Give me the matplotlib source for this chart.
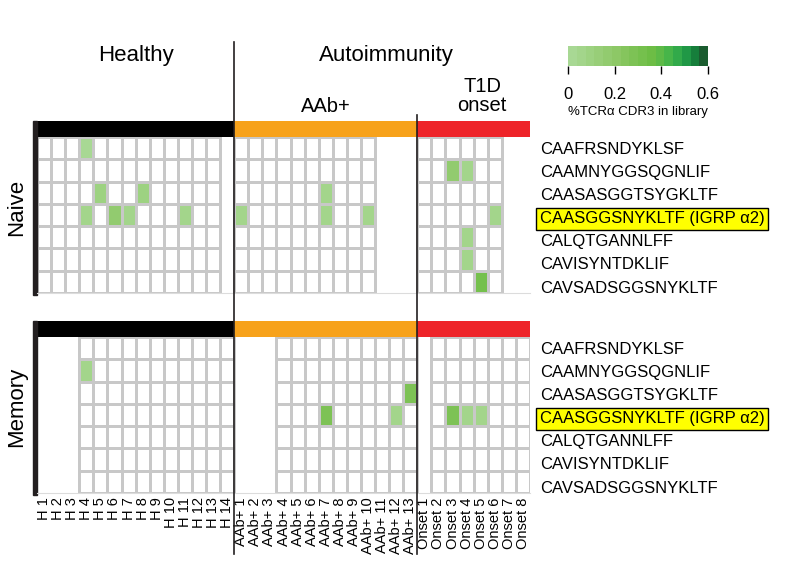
import numpy as np
import matplotlib.pyplot as plt
import matplotlib.transforms as mtransforms
from matplotlib.colors import LinearSegmentedColormap, Normalize
from matplotlib.cm import ScalarMappable
from matplotlib.lines import Line2D
from matplotlib.patches import Rectangle

plt.rcParams['font.family'] = ['Liberation Sans', 'DejaVu Sans']

# ---- data ----
cdr3 = ["CAAFRSNDYKLSF", "CAAMNYGGSQGNLIF", "CAASASGGTSYGKLTF",
        "CAASGGSNYKLTF (IGRP \u03b12)", "CALQTGANNLFF", "CAVISYNTDKLIF",
        "CAVSADSGGSNYKLTF"]
highlight_row = 3

healthy = [f"H {i}" for i in range(1, 15)]
aab = [f"AAb+ {i}" for i in range(1, 14)]
onset = [f"Onset {i}" for i in range(1, 9)]
samples = healthy + aab + onset

group_sizes = [len(healthy), len(aab), len(onset)]
group_colors = ["#000000", "#f7a21b", "#ee2429"]

naive_missing = ["H 14", "AAb+ 11", "AAb+ 12", "AAb+ 13", "Onset 7", "Onset 8"]
memory_missing = ["H 1", "H 2", "H 3", "AAb+ 1", "AAb+ 2", "AAb+ 3", "Onset 1"]

# (row, sample, %TCRa CDR3 in library)
naive_hits = [
    (0, "H 4", 0.03),
    (1, "Onset 3", 0.18), (1, "Onset 4", 0.04),
    (2, "H 5", 0.10), (2, "H 8", 0.10), (2, "AAb+ 7", 0.04),
    (3, "H 4", 0.04), (3, "H 6", 0.16), (3, "H 7", 0.05), (3, "H 11", 0.04),
    (3, "AAb+ 1", 0.04), (3, "AAb+ 7", 0.04), (3, "AAb+ 10", 0.04),
    (3, "Onset 6", 0.04),
    (4, "Onset 4", 0.04),
    (5, "Onset 4", 0.04),
    (6, "Onset 5", 0.32),
]
memory_hits = [
    (1, "H 4", 0.04),
    (2, "AAb+ 13", 0.27),
    (3, "AAb+ 7", 0.27), (3, "AAb+ 12", 0.04),
    (3, "Onset 3", 0.27), (3, "Onset 4", 0.04), (3, "Onset 5", 0.04),
]

cmap = LinearSegmentedColormap.from_list(
    "tcr", [(0.0, "#a8d894"), (0.33, "#8dc866"), (0.6, "#6dbd45"),
            (0.7, "#55b848"), (0.76, "#3cb34a"), (0.84, "#27a14a"),
            (0.91, "#158a3f"), (1.0, "#1a5c2f")], N=16)
cmap.set_bad("white")
norm = Normalize(0, 0.6)


def build(hits, missing):
    m = np.zeros((len(cdr3), len(samples)))
    for r, s, v in hits:
        m[r, samples.index(s)] = v
    present = np.array([s not in missing for s in samples])
    return m, present


fig = plt.figure(figsize=(7.87, 5.86), dpi=100)
W, H = 787, 586


def px_axes(x0, y0, x1, y1):
    return fig.add_axes([x0 / W, 1 - y1 / H, (x1 - x0) / W, (y1 - y0) / H])


bar_h = 0.72
panels = [("Naive", naive_hits, naive_missing, 121, 293),
          ("Memory", memory_hits, memory_missing, 321, 493)]
axes = []
for name, hits, missing, top, bottom in panels:
    ax = px_axes(37, top, 530, bottom)
    axes.append(ax)
    m, present = build(hits, missing)
    xe = np.arange(len(samples) + 1)
    ye = np.arange(len(cdr3) + 1)
    # draw contiguous runs of present samples
    j = 0
    while j < len(samples):
        if present[j]:
            k = j
            while k < len(samples) and present[k]:
                k += 1
            block = np.ma.masked_equal(m[:, j:k], 0)
            ax.pcolormesh(xe[j:k + 1], ye, block, cmap=cmap, norm=norm,
                          edgecolors="#c8c8c8", linewidth=0.8)
            j = k
        else:
            j += 1
    # header colour bar
    starts = np.cumsum([0] + group_sizes[:-1])
    ax.broken_barh(list(zip(starts, group_sizes)), (-bar_h, bar_h),
                   facecolors=group_colors)
    ax.set_xlim(0, len(samples))
    ax.set_ylim(len(cdr3), -bar_h)
    for sp in ["top", "left", "right"]:
        ax.spines[sp].set_visible(False)
    ax.spines["bottom"].set_color("#dcdcdc")
    ax.spines["bottom"].set_linewidth(0.8)
    ax.add_patch(Rectangle((-0.3, -bar_h), 0.3, len(cdr3) + bar_h + 0.08,
                           color="#231f20", clip_on=False))
    ax.yaxis.tick_right()
    ax.set_yticks(np.arange(len(cdr3)) + 0.5 + np.arange(len(cdr3)) * 0.035,
                  cdr3)
    ax.tick_params(axis="y", length=0, pad=7, labelsize=12)
    ax.get_yticklabels()[highlight_row].set_bbox(
        dict(boxstyle="square,pad=0.2", facecolor="#ffff00",
             edgecolor="black", linewidth=1))
    fig.text(17 / W, 1 - ((top + bottom) / 2) / H, name, rotation=90,
             ha="center", va="center", fontsize=16)

ax_top, ax_bot = axes
ax_top.set_xticks([])
ax_bot.set_xticks(np.arange(len(samples)) + 0.5, samples, rotation=90)
ax_bot.tick_params(axis="x", length=0, pad=3, labelsize=10.5)

# separators and group titles
tr = mtransforms.blended_transform_factory(ax_top.transData, fig.transFigure)
n_h, n_a = len(healthy), len(aab)
fig.add_artist(Line2D([n_h, n_h], [1 - 42 / H, 1 - 554 / H], transform=tr,
                      color="#231f20", linewidth=1.2))
fig.add_artist(Line2D([n_h + n_a, n_h + n_a], [1 - 115 / H, 1 - 554 / H],
                      transform=tr, color="#231f20", linewidth=1.2))
fig.text(n_h / 2, 1 - 56 / H, "Healthy", transform=tr, ha="center",
         va="center", fontsize=16)
fig.text(24.8, 1 - 56 / H, "Autoimmunity", transform=tr, ha="center",
         va="center", fontsize=16)
fig.text(n_h + n_a / 2, 1 - 106 / H, "AAb+", transform=tr, ha="center",
         va="center", fontsize=14.5)
fig.text(n_h + n_a + len(onset) / 2 + 0.6, 1 - 96 / H, "T1D\nonset",
         transform=tr, ha="center", va="center", fontsize=14.5,
         linespacing=0.95)

# colour bar
cax = px_axes(568, 46, 708, 66)
cb = fig.colorbar(ScalarMappable(norm=norm, cmap=cmap), cax=cax,
                  orientation="horizontal", ticks=[0, 0.2, 0.4, 0.6])
cb.outline.set_visible(False)
cb.ax.set_xticklabels(["0", "0.2", "0.4", "0.6"])
cb.ax.tick_params(length=6, width=1, pad=9, labelsize=12)
cb.set_label("%TCR\u03b1 CDR3 in library", fontsize=9.5, labelpad=3)

fig.savefig("out.png", dpi=100)
